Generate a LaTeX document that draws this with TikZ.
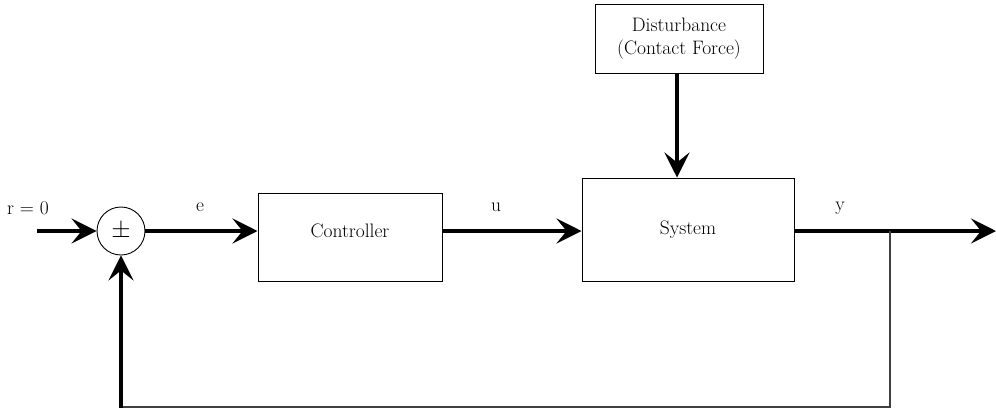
\documentclass[tikz,border=0pt]{standalone}
\usetikzlibrary{arrows.meta,calc}
\begin{document}
\begin{tikzpicture}[x=1pt,y=-1pt,
  every node/.style={font=\fontsize{19.5}{23}\selectfont},
  blockbox/.style={draw, line width=1pt, inner sep=0pt},
  sig/.style={line width=4pt, -{Stealth[length=25pt,width=25pt,inset=10pt]}},
  fb/.style={line width=1.2pt, draw=black!75},
  lbl/.style={inner sep=0pt}]
\useasboundingbox (0,0) rectangle (996,413);
% blocks
\node[draw, circle, line width=0.9pt, minimum size=48pt, inner sep=0pt] (sum) at (121,231) {\fontsize{30}{30}\selectfont$\pm$};
\node[blockbox, minimum width=184pt, minimum height=88pt] (ctrl) at (350,237) {\raisebox{6pt}[\height][\depth]{Controller}};
\node[blockbox, minimum width=212pt, minimum height=103pt] (sys) at (688,229.5) {System};
\node[blockbox, minimum width=168pt, minimum height=69pt, align=center] (dist) at (679,38.5) {Disturbance\\(Contact Force)};
% labels
\node[lbl] (rlbl) at (28,208) {r = 0};
\node[lbl] (elbl) at (200,207) {e};
\node[lbl] (ulbl) at (496,207) {u};
\node[lbl] (ylbl) at (840,208) {y};
% coordinates
\coordinate (in) at (37,231);
\coordinate (out) at (996,231);
\coordinate (br) at (890,231);
\coordinate (bot) at (890,407);
\coordinate (botl) at (121,407);
% connectors
\draw[sig] (in) -- (sum.west);
\draw[sig] (sum.east) -- (sum.east -| ctrl.west);
\draw[sig] (sum.east -| ctrl.east) -- (sum.east -| sys.west);
\draw[sig] (dist.south -| 677,0) -- (sys.north -| 677,0);
\draw[sig] (sum.east -| sys.east) -- (out);
\draw[fb] (br) -- (bot) -- (botl);
\draw[sig] ($(botl)+(0,1)$) -- (sum.south);
\end{tikzpicture}
\end{document}
